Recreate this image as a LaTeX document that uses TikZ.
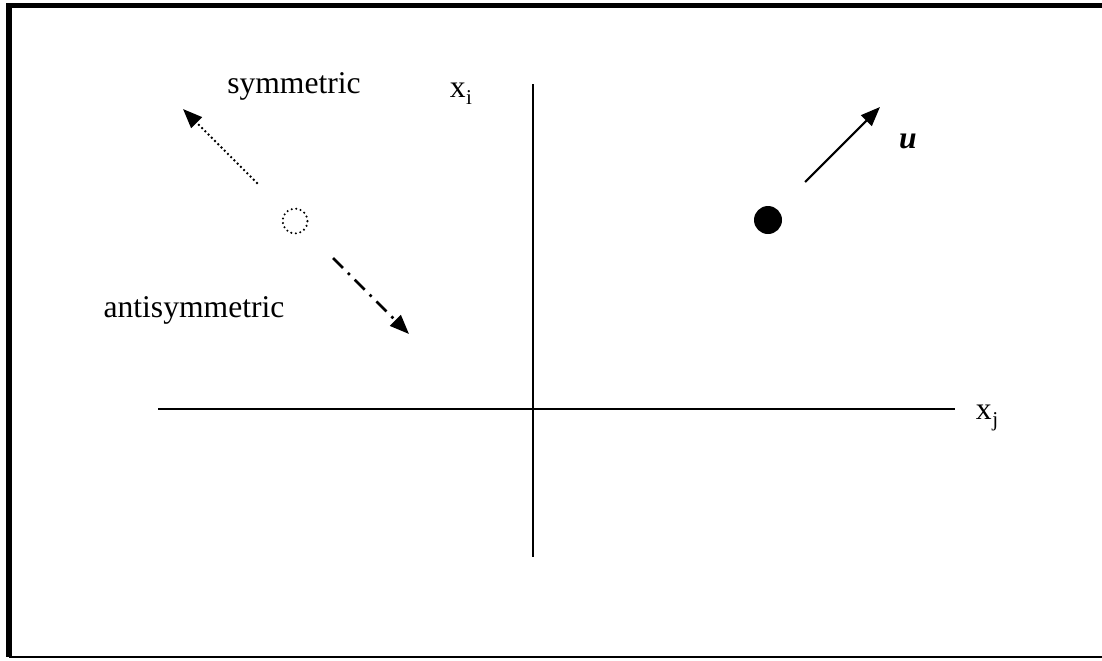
\documentclass[tikz,border=0pt]{standalone}
\usepackage{fontspec}
\setmainfont{Liberation Serif}
\usepackage{tikz}
\usetikzlibrary{arrows.meta}

\tikzset{
  axis/.style={line width=1.2pt},
  vec/.style={line width=1.2pt, -{Triangle[length=11pt, width=8.5pt]}},
  lbl/.style={font=\fontsize{18}{20}\selectfont, inner sep=0pt}
}

\begin{document}
\begin{tikzpicture}[x=0.02cm, y=-0.02cm]
  \useasboundingbox (0,0) rectangle (1102,660);

  % Frame (open on the right)
  \draw[line width=3pt] (1102,5.5) -- (9,5.5) -- (9,657);
  \draw[line width=1.3pt] (9,657) -- (1102,657);

  % Axes
  \coordinate (xl) at (158,409);
  \coordinate (xr) at (955,409);
  \coordinate (yt) at (533,84);
  \coordinate (yb) at (533,557);
  \draw[axis] (xl) -- (xr);
  \draw[axis] (yt) -- (yb);
  \node[lbl] (xi) at (461,94) {x\kern0.3pt\raisebox{-0.45ex}{\fontsize{12}{12}\selectfont i}};
  \node[lbl] (xj) at (987,418) {x\kern0.3pt\raisebox{-0.45ex}{\fontsize{12}{12}\selectfont j}};

  % Particle moving with velocity u
  \node[circle, fill=black, inner sep=0pt, minimum size=0.56cm] (p) at (768,220) {};
  \coordinate (us) at (805,182);
  \coordinate (ue) at (880,107);
  \draw[vec] (us) -- (ue);
  \node[lbl] (u) at (908,141) {\textbf{\textit{u}}};

  % Image particle
  \node[circle, draw, line cap=round, dash pattern=on 0pt off 2.6pt, line width=1.3pt, minimum size=0.5cm, inner sep=0pt] (q) at (295,221) {};
  \coordinate (ss) at (257,183);
  \coordinate (se) at (183,109);
  \draw[vec, line width=1.5pt, line cap=round, dash pattern=on 0pt off 2.6pt] (ss) -- (se);
  \coordinate (as) at (333,258);
  \coordinate (ae) at (409,334);
  \draw[vec, line width=1.5pt, dash pattern=on 8pt off 4pt on 1.5pt off 4pt] (as) -- (ae);

  \node[lbl] (sym) at (294,86) {symmetric};
  \node[lbl] (anti) at (194,310) {antisymmetric};
\end{tikzpicture}
\end{document}
